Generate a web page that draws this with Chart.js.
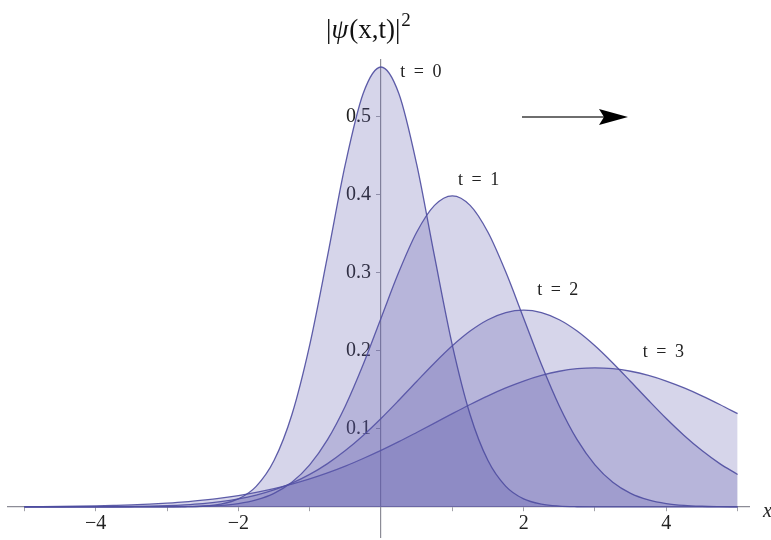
<!DOCTYPE html>
<html>
<head>
  <title>|psi(x,t)|^2</title>
  <script src="https://cdn.jsdelivr.net/npm/chart.js"></script>
  <style>
    body {
      margin: 0;
      background-color: #FFFFFF;
    }
    canvas {
      display: block;
    }
  </style>
</head>
<body>
  <canvas id="waveChart" width="771" height="540"></canvas>

  <script>
    const xs = [
      -5, -4.75, -4.5, -4.25, -4, -3.75, -3.5, -3.25, -3, -2.75,
      -2.5, -2.25, -2, -1.75, -1.5, -1.25, -1, -0.75, -0.5, -0.25,
      0, 0.25, 0.5, 0.75, 1, 1.25, 1.5, 1.75, 2, 2.25,
      2.5, 2.75, 3, 3.25, 3.5, 3.75, 4, 4.25, 4.5, 4.75, 5
    ];

    const densityT0 = [
      0, 0, 0, 0, 0, 0, 0, 0, 0.0001, 0.0003,
      0.0011, 0.0036, 0.0103, 0.0264, 0.0595, 0.1183, 0.2076, 0.3215, 0.4394, 0.530,
      0.564, 0.530, 0.4394, 0.3215, 0.2076, 0.1183, 0.0595, 0.0264, 0.0103, 0.0036,
      0.0011, 0.0003, 0.0001, 0, 0, 0, 0, 0, 0, 0, 0
    ];

    const densityT1 = [
      0, 0, 0, 0, 0, 0, 0, 0.0001, 0.0001, 0.0004,
      0.0009, 0.0020, 0.0044, 0.0091, 0.0175, 0.0317, 0.0540, 0.0863, 0.1295, 0.1826,
      0.2420, 0.3011, 0.3521, 0.3866, 0.3989, 0.3866, 0.3521, 0.3011, 0.2420, 0.1826,
      0.1295, 0.0863, 0.0540, 0.0317, 0.0175, 0.0091, 0.0044, 0.0020, 0.0009, 0.0004, 0.0001
    ];

    const densityT2 = [
      0, 0, 0.0001, 0.0001, 0.0002, 0.0003, 0.0006, 0.0010, 0.0017, 0.0028,
      0.0044, 0.0068, 0.0103, 0.0152, 0.0218, 0.0305, 0.0417, 0.0556, 0.0723, 0.0917,
      0.1134, 0.1368, 0.1609, 0.1846, 0.2066, 0.2255, 0.2400, 0.2492, 0.2523, 0.2492,
      0.2400, 0.2255, 0.2066, 0.1846, 0.1609, 0.1368, 0.1134, 0.0917, 0.0723, 0.0556, 0.0417
    ];

    const densityT3 = [
      0.0003, 0.0004, 0.0006, 0.0009, 0.0013, 0.0019, 0.0026, 0.0036, 0.0049, 0.0065,
      0.0087, 0.0113, 0.0146, 0.0187, 0.0235, 0.0293, 0.0360, 0.0437, 0.0524, 0.0621,
      0.0725, 0.0837, 0.0955, 0.1075, 0.1196, 0.1314, 0.1425, 0.1526, 0.1614, 0.1686,
      0.1740, 0.1773, 0.1784, 0.1773, 0.1740, 0.1686, 0.1614, 0.1526, 0.1425, 0.1314, 0.1196
    ];

    const seriesNames = ['t = 0', 't = 1', 't = 2', 't = 3'];
    // where each curve label sits, in data units (x of left edge, y of centre)
    const labelX = [0.27, 1.08, 2.19, 3.67];
    const labelY = [0.5577, 0.4192, 0.2782, 0.1987];

    const xTickLabels = [-4, -2, 2, 4];
    const yTickLabels = [0.1, 0.2, 0.3, 0.4, 0.5];

    const toPoints = (values) => xs.map((x, i) => ({ x: x, y: values[i] }));

    const makeDataset = (name, values) => ({
      label: name,
      data: toPoints(values),
      borderColor: 'rgba(78, 76, 160, 0.9)',
      borderWidth: 1.3,
      backgroundColor: 'rgba(90, 88, 170, 0.25)',
      fill: 'origin',
      pointRadius: 0,
      cubicInterpolationMode: 'monotone',
    });

    // axes cross inside the plot, so they must not eat into the chart area
    const noRoom = (scale) => {
      if (scale.isHorizontal()) {
        scale.height = 0;
      } else {
        scale.width = 0;
      }
      scale.paddingTop = 0;
      scale.paddingBottom = 0;
      scale.paddingLeft = 0;
      scale.paddingRight = 0;
    };

    // curve labels, title, arrow and axis name
    const annotations = {
      id: 'annotations',
      afterDatasetsDraw(chart) {
        const ctx = chart.ctx;
        const xScale = chart.scales.x;
        const yScale = chart.scales.y;
        ctx.save();

        ctx.fillStyle = '#222222';
        ctx.textBaseline = 'middle';
        ctx.textAlign = 'left';
        ctx.font = '18px "Liberation Serif"';
        ctx.letterSpacing = '2px';
        seriesNames.forEach((name, i) => {
          ctx.fillText(name, xScale.getPixelForValue(labelX[i]), yScale.getPixelForValue(labelY[i]));
        });
        ctx.letterSpacing = '0px';

        // title |psi(x,t)|^2
        ctx.textBaseline = 'alphabetic';
        ctx.fillStyle = '#111111';
        let tx = 326;
        const ty = 38;
        const parts = [
          ['|', '27px "Liberation Serif"'],
          ['\u03C8', 'italic 27px "Liberation Serif"'],
          ['(x,t)|', '27px "Liberation Serif"'],
        ];
        parts.forEach(([txt, font]) => {
          ctx.font = font;
          ctx.fillText(txt, tx, ty);
          tx += ctx.measureText(txt).width + (txt === '\u03C8' ? 1 : 0);
        });
        ctx.font = '19px "Liberation Serif"';
        ctx.fillText('2', tx + 1, ty - 12);

        // arrow showing the direction of motion
        ctx.strokeStyle = '#6e6e6e';
        ctx.lineWidth = 2;
        ctx.beginPath();
        ctx.moveTo(522, 117);
        ctx.lineTo(604, 117);
        ctx.stroke();
        ctx.fillStyle = '#000000';
        ctx.beginPath();
        ctx.moveTo(628, 117);
        ctx.lineTo(599, 109);
        ctx.lineTo(604, 117);
        ctx.lineTo(599, 125);
        ctx.closePath();
        ctx.fill();

        // axis name at the right end, cut by the edge
        ctx.fillStyle = '#222222';
        ctx.font = 'italic 20px "Liberation Serif"';
        ctx.textBaseline = 'middle';
        ctx.fillText('x', 763, 512);

        ctx.restore();
      },
    };

    new Chart(document.getElementById('waveChart').getContext('2d'), {
      type: 'line',
      data: {
        datasets: [
          makeDataset(seriesNames[0], densityT0),
          makeDataset(seriesNames[1], densityT1),
          makeDataset(seriesNames[2], densityT2),
          makeDataset(seriesNames[3], densityT3),
        ],
      },
      options: {
        responsive: false,
        animation: false,
        layout: {
          padding: { left: 8, right: 22, top: 60, bottom: 3 },
        },
        scales: {
          x: {
            type: 'linear',
            position: { y: 0 },
            min: -5.23,
            max: 5.16,
            afterFit: noRoom,
            grid: {
              drawOnChartArea: false,
              drawTicks: true,
              tickLength: 4,
              color: 'rgba(120, 120, 130, 0.7)',
            },
            border: { color: '#8c8c96', width: 1.2 },
            ticks: {
              stepSize: 1,
              includeBounds: false,
              autoSkip: false,
              maxRotation: 0,
              padding: 1,
              color: '#222222',
              font: { family: '"Liberation Serif"', size: 20 },
              callback: (value) => xTickLabels.includes(value) ? (value < 0 ? '\u2212' + Math.abs(value) : String(value)) : '',
            },
          },
          y: {
            type: 'linear',
            position: { x: 0 },
            min: -0.0385,
            max: 0.573,
            afterFit: noRoom,
            grid: {
              drawOnChartArea: false,
              drawTicks: true,
              tickLength: 4,
              color: 'rgba(120, 120, 130, 0.7)',
            },
            border: { color: '#8c8c96', width: 1.2 },
            ticks: {
              stepSize: 0.1,
              includeBounds: false,
              autoSkip: false,
              color: '#222222',
              font: { family: '"Liberation Serif"', size: 20 },
              callback: (value) => {
                const v = Math.round(value * 10) / 10;
                return yTickLabels.includes(v) ? v.toFixed(1) + '  ' : '';
              },
            },
          },
        },
        plugins: {
          legend: { display: false },
          tooltip: { enabled: false },
        },
      },
      plugins: [annotations],
    });
  </script>
</body>
</html>
